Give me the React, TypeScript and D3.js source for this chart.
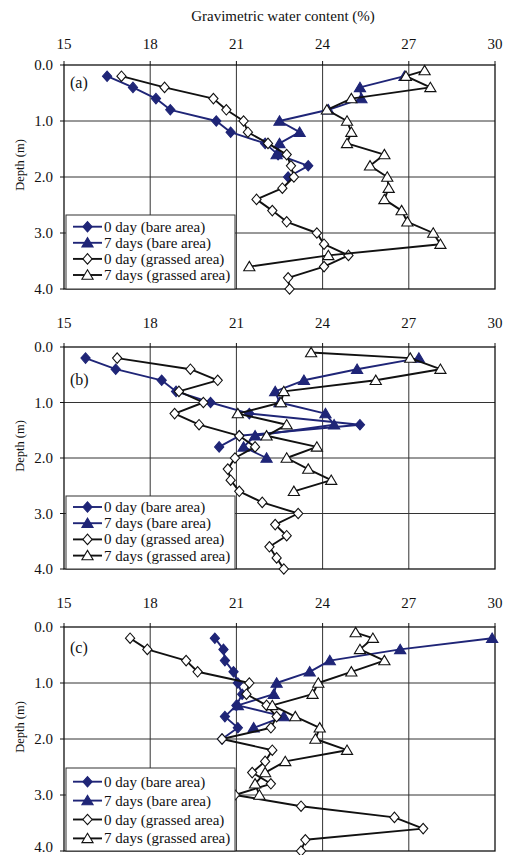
import React, { useEffect, useRef } from 'react';
import * as d3 from 'd3';

type Pt = [number, number]; // [depth (m), gravimetric water content (%)]

const xTicks = [15, 18, 21, 24, 27, 30];
const yTicks = [0, 1, 2, 3, 4];
const legendLabels = ['0 day (bare area)', '7 days (bare area)', '0 day (grassed area)', '7 days (grassed area)'];

// panel (a)
const aBare0: Pt[] = [[0.2, 16.5], [0.4, 17.4], [0.6, 18.2], [0.8, 18.7], [1.0, 20.3], [1.2, 20.8], [1.4, 22.0], [1.6, 22.45], [1.8, 23.5], [2.0, 22.8]];
const aBare7: Pt[] = [[0.2, 26.85], [0.4, 25.3], [0.6, 25.35], [0.8, 24.2], [1.0, 22.5], [1.2, 23.2], [1.4, 22.5], [1.6, 22.4]];
const aGrass0: Pt[] = [[0.2, 17.0], [0.4, 18.5], [0.6, 20.2], [0.8, 20.65], [1.0, 21.25], [1.2, 21.4], [1.4, 22.1], [1.6, 22.75], [1.8, 22.9], [2.0, 23.0], [2.2, 22.6], [2.4, 21.7], [2.6, 22.25], [2.8, 22.75], [3.0, 23.8], [3.2, 24.05], [3.4, 24.9], [3.6, 24.05], [3.8, 22.8], [4.0, 22.85]];
const aGrass7: Pt[] = [[0.1, 27.55], [0.2, 26.9], [0.4, 27.75], [0.6, 25.0], [0.8, 24.15], [1.0, 24.85], [1.2, 25.0], [1.4, 24.85], [1.6, 26.15], [1.8, 25.65], [2.0, 26.25], [2.2, 26.3], [2.4, 26.15], [2.6, 26.75], [2.8, 26.95], [3.0, 27.85], [3.2, 28.1], [3.4, 24.2], [3.6, 21.45]];

// panel (b)
const bBare0: Pt[] = [[0.2, 15.75], [0.4, 16.8], [0.6, 18.4], [0.8, 18.9], [1.0, 20.1], [1.2, 21.45], [1.4, 25.3], [1.6, 21.1], [1.8, 20.4]];
const bBare7: Pt[] = [[0.2, 27.35], [0.4, 25.2], [0.6, 23.35], [0.8, 22.35], [1.0, 22.5], [1.2, 24.1], [1.4, 24.4], [1.6, 21.65], [1.8, 21.25], [2.0, 22.05]];
const bGrass0: Pt[] = [[0.2, 16.85], [0.4, 19.4], [0.6, 20.35], [0.8, 19.0], [1.0, 19.85], [1.2, 18.85], [1.4, 19.7], [1.6, 21.1], [1.8, 21.65], [2.0, 20.95], [2.2, 20.7], [2.4, 20.8], [2.6, 21.1], [2.8, 21.9], [3.0, 23.15], [3.2, 22.35], [3.4, 22.75], [3.6, 22.15], [3.8, 22.4], [4.0, 22.65]];
const bGrass7: Pt[] = [[0.1, 23.6], [0.2, 27.05], [0.4, 28.1], [0.6, 25.85], [0.8, 22.65], [1.0, 22.55], [1.2, 21.05], [1.4, 22.75], [1.6, 22.05], [1.8, 23.8], [2.0, 22.75], [2.2, 23.5], [2.4, 24.3], [2.6, 23.0]];

// panel (c)
const cBare0: Pt[] = [[0.2, 20.25], [0.4, 20.55], [0.6, 20.6], [0.8, 20.9], [1.0, 21.05], [1.2, 21.2], [1.4, 21.0], [1.6, 20.6], [1.8, 21.05], [2.0, 20.5]];
const cBare7: Pt[] = [[0.2, 29.9], [0.4, 26.7], [0.6, 24.25], [0.8, 23.55], [1.0, 22.4], [1.2, 22.3], [1.4, 21.05], [1.6, 22.65], [1.8, 21.6]];
const cGrass0: Pt[] = [[0.2, 17.3], [0.4, 17.9], [0.6, 19.25], [0.8, 19.65], [1.0, 21.45], [1.2, 21.35], [1.4, 22.05], [1.6, 22.4], [1.8, 22.2], [2.0, 20.5], [2.2, 22.25], [2.4, 22.0], [2.6, 21.55], [2.8, 22.2], [3.0, 20.95], [3.2, 23.25], [3.4, 26.5], [3.6, 27.5], [3.8, 23.4], [4.0, 23.25]];
const cGrass7: Pt[] = [[0.1, 25.15], [0.2, 25.75], [0.4, 25.3], [0.6, 26.15], [0.8, 25.0], [1.0, 23.85], [1.2, 23.65], [1.4, 22.25], [1.6, 23.05], [1.8, 23.9], [2.0, 23.75], [2.2, 24.85], [2.4, 22.7], [2.6, 22.0], [2.8, 21.65], [3.0, 21.8]];

const BLUE = '#1f2577';
const FONT = 'Liberation Serif, DejaVu Serif, serif';

const styles = [
  { color: BLUE, fill: BLUE, shape: 'diamond' },
  { color: BLUE, fill: BLUE, shape: 'triangle' },
  { color: '#111', fill: '#fff', shape: 'diamond' },
  { color: '#111', fill: '#fff', shape: 'triangle' },
];

const markerPath = (shape: string) =>
  shape === 'diamond' ? 'M0,-5.2L4.6,0L0,5.2L-4.6,0Z' : 'M0,-5.2L5.6,4.2L-5.6,4.2Z';

const panels = [
  { label: '(a)', top: 65, bottom: 289, labelY: 88, tickY: 49, legendTop: 215, rowGap: 16.1, firstRow: 11.7, series: [aBare0, aBare7, aGrass0, aGrass7] },
  { label: '(b)', top: 347, bottom: 569, labelY: 385, tickY: 328, legendTop: 496, rowGap: 16.2, firstRow: 11, series: [bBare0, bBare7, bGrass0, bGrass7] },
  { label: '(c)', top: 627, bottom: 851, labelY: 653, tickY: 608, legendTop: 768, rowGap: 18.9, firstRow: 13.7, series: [cBare0, cBare7, cGrass0, cGrass7] },
];

export default function App() {
  const ref = useRef<SVGSVGElement>(null);

  useEffect(() => {
    const svg = d3.select(ref.current);
    svg.selectAll('*').remove();

    const x = d3.scaleLinear().domain([15, 30]).range([64, 495]);

    const text = (sel: any) => sel.attr('font-family', FONT).attr('fill', '#111');

    svg.append('text')
      .attr('x', 283).attr('y', 21)
      .attr('text-anchor', 'middle')
      .attr('font-size', 15)
      .call(text)
      .text('Gravimetric water content (%)');

    panels.forEach(p => {
      const y = d3.scaleLinear().domain([0, 4]).range([p.top, p.bottom]);
      const g = svg.append('g');

      // grid
      g.selectAll('.gx').data(xTicks.slice(1, -1)).enter().append('line')
        .attr('x1', d => x(d)).attr('x2', d => x(d))
        .attr('y1', p.top).attr('y2', p.bottom)
        .attr('stroke', '#333').attr('stroke-width', 1);
      g.selectAll('.gy').data(yTicks.slice(1, -1)).enter().append('line')
        .attr('x1', x(15)).attr('x2', x(30))
        .attr('y1', d => y(d)).attr('y2', d => y(d))
        .attr('stroke', '#333').attr('stroke-width', 1);

      // frame
      g.append('rect')
        .attr('x', x(15)).attr('y', p.top)
        .attr('width', x(30) - x(15)).attr('height', p.bottom - p.top)
        .attr('fill', 'none').attr('stroke', '#111').attr('stroke-width', 1.3);

      // ticks + labels
      g.selectAll('.tx').data(xTicks).enter().append('line')
        .attr('x1', d => x(d)).attr('x2', d => x(d))
        .attr('y1', p.top).attr('y2', p.top - 4)
        .attr('stroke', '#111');
      g.selectAll('.lx').data(xTicks).enter().append('text')
        .attr('x', d => x(d)).attr('y', p.tickY)
        .attr('text-anchor', 'middle').attr('font-size', 15)
        .call(text)
        .text(d => d);
      g.selectAll('.ty').data(yTicks).enter().append('line')
        .attr('x1', x(15)).attr('x2', x(15) - 4)
        .attr('y1', d => y(d)).attr('y2', d => y(d))
        .attr('stroke', '#111');
      g.selectAll('.ly').data(yTicks).enter().append('text')
        .attr('x', 53).attr('y', d => Math.min(y(d) + 5, 852))
        .attr('text-anchor', 'end').attr('font-size', 15)
        .call(text)
        .text(d => d3.format('.1f')(d));

      const midY = (p.top + p.bottom) / 2 - 12;
      g.append('text')
        .attr('transform', `translate(24,${midY}) rotate(-90)`)
        .attr('text-anchor', 'middle').attr('font-size', 12.5)
        .call(text)
        .text('Depth (m)');

      g.append('text')
        .attr('x', 70).attr('y', p.labelY)
        .attr('font-size', 16)
        .call(text)
        .text(p.label);

      // series
      const line = d3.line<Pt>().x(d => x(d[1])).y(d => y(d[0]));
      p.series.forEach((data, i) => {
        const s = styles[i];
        g.append('path').datum(data)
          .attr('d', line)
          .attr('fill', 'none').attr('stroke', s.color).attr('stroke-width', 1.9)
          .attr('stroke-linejoin', 'round');
        g.selectAll(null).data(data).enter().append('path')
          .attr('d', markerPath(s.shape))
          .attr('transform', d => `translate(${x(d[1])},${y(d[0])})`)
          .attr('fill', s.fill).attr('stroke', s.color).attr('stroke-width', 1.1);
      });

      // legend
      const lg = g.append('g');
      lg.append('rect')
        .attr('x', 66).attr('y', p.legendTop)
        .attr('width', 169).attr('height', p.bottom - p.legendTop)
        .attr('fill', '#fff').attr('stroke', '#333').attr('stroke-width', 1);
      legendLabels.forEach((lab, i) => {
        const s = styles[i];
        const ry = p.legendTop + p.firstRow + i * p.rowGap;
        lg.append('line')
          .attr('x1', 73).attr('x2', 102).attr('y1', ry).attr('y2', ry)
          .attr('stroke', s.color).attr('stroke-width', 1.9);
        lg.append('path')
          .attr('d', markerPath(s.shape))
          .attr('transform', `translate(87.5,${ry})`)
          .attr('fill', s.fill).attr('stroke', s.color).attr('stroke-width', 1.1);
        lg.append('text')
          .attr('x', 104).attr('y', ry + 5)
          .attr('font-size', 15)
          .call(text)
          .text(lab);
      });
    });
  }, []);

  return (
    <svg
      ref={ref}
      width={508}
      height={855}
      style={{ position: 'absolute', left: 0, top: 0, background: '#fff' }}
    />
  );
}
